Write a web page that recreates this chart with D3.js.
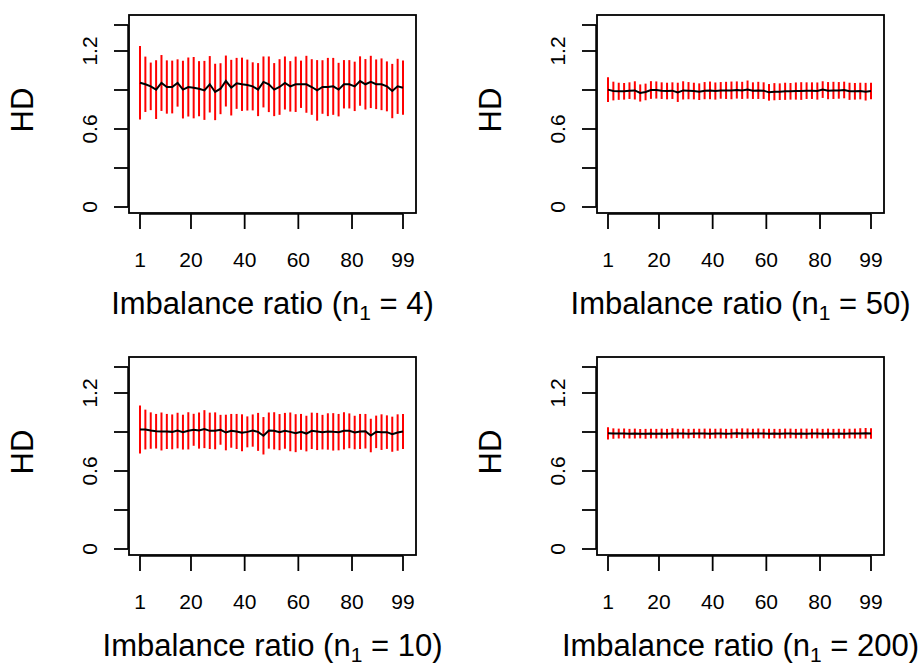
<!DOCTYPE html>
<meta charset="utf-8">
<script src="https://d3js.org/d3.v7.min.js"></script>
<style>
body { margin: 0; background: #fff; }
svg text { font-family: "Liberation Sans", Arial, Helvetica, sans-serif; fill: #000; }
.tick-label { font-size: 21px; }
.axis-title { font-size: 31px; }
</style>
<body>
<div id="chart"></div>
<script>

// imbalance ratios where the runs were made
var ratios = [1,3,5,7,9,11,13,15,17,19,21,23,25,27,29,31,33,35,37,39,41,43,45,47,49,
              51,53,55,57,59,61,63,65,67,69,71,73,75,77,79,81,83,85,87,89,91,93,95,97,99];

// n1 = 4
var meanN4 = [.956,.944,.928,.903,.954,.923,.923,.954,.903,.923,.918,.910,.897,.944,.885,.910,.969,.918,.951,.944,
              .938,.928,.903,.962,.944,.903,.923,.954,.928,.944,.944,.944,.923,.897,.923,.923,.928,.903,.944,.944,
              .928,.969,.944,.962,.944,.944,.928,.892,.928,.918];
var sdN4   = [.283,.213,.183,.226,.215,.205,.203,.182,.222,.227,.236,.212,.227,.217,.217,.196,.196,.214,.196,.205,
              .196,.185,.204,.196,.214,.204,.214,.204,.194,.213,.182,.219,.214,.233,.206,.224,.219,.206,.186,.186,
              .190,.190,.194,.201,.191,.199,.192,.209,.212,.209];

// n1 = 50
var meanN50 = [.903,.892,.890,.890,.895,.897,.877,.885,.900,.900,.895,.892,.895,.882,.897,.895,.892,.887,.895,.897,
               .892,.897,.897,.897,.900,.897,.903,.895,.897,.895,.882,.887,.887,.890,.890,.892,.892,.895,.895,.892,
               .903,.895,.897,.897,.900,.890,.890,.892,.887,.892];
var sdN50   = [.096,.072,.066,.064,.064,.070,.066,.064,.068,.066,.064,.064,.064,.074,.070,.066,.064,.064,.066,.068,
               .066,.064,.066,.068,.066,.066,.070,.064,.066,.064,.064,.066,.064,.066,.064,.066,.068,.064,.064,.066,
               .064,.066,.066,.064,.064,.066,.064,.064,.068,.064];

// n1 = 10
var meanN10 = [.919,.919,.911,.906,.904,.904,.901,.911,.899,.909,.917,.911,.922,.909,.909,.917,.896,.909,.904,.894,
               .901,.911,.901,.871,.911,.909,.899,.909,.901,.891,.901,.888,.909,.904,.899,.904,.901,.899,.909,.909,
               .896,.904,.906,.873,.901,.899,.899,.883,.896,.904];
var sdN10   = [.184,.153,.140,.133,.146,.135,.134,.137,.134,.143,.123,.139,.146,.140,.142,.115,.137,.130,.135,.142,
               .119,.124,.146,.144,.139,.143,.139,.138,.149,.146,.138,.137,.140,.143,.133,.140,.144,.140,.143,.134,
               .129,.135,.133,.129,.125,.137,.129,.135,.140,.135];

// n1 = 200
var meanN200 = [.890,.888,.888,.889,.887,.888,.887,.886,.888,.887,.888,.887,.889,.888,.888,.887,.889,.888,.888,.887,
                .888,.889,.887,.888,.890,.888,.889,.888,.889,.888,.887,.888,.887,.888,.889,.887,.888,.887,.888,.889,
                .887,.888,.887,.888,.887,.888,.888,.889,.890,.889];
var sdN200   = [.047,.040,.038,.038,.037,.038,.036,.038,.037,.037,.038,.037,.040,.037,.038,.037,.036,.037,.038,.039,
                .037,.038,.037,.037,.036,.040,.038,.037,.038,.037,.038,.036,.037,.038,.037,.037,.038,.039,.037,.038,
                .037,.038,.037,.037,.038,.037,.038,.040,.041,.040];

var xTicks = [1, 20, 40, 60, 80, 99];
var yTicks = [0, 0.3, 0.6, 0.9, 1.2, 1.4];
var yTickLabels = ["0", "", "0.6", "", "1.2", ""];

var width = 922, height = 665;
var svg = d3.select("#chart").append("svg")
    .attr("width", width)
    .attr("height", height);

// panel boxes (left, top) ; each plot region 287 x 198
var panels = [
  {n1: "4",   mean: meanN4,   sd: sdN4,   left: 129, top: 15},
  {n1: "50",  mean: meanN50,  sd: sdN50,  left: 597, top: 15},
  {n1: "10",  mean: meanN10,  sd: sdN10,  left: 129, top: 357},
  {n1: "200", mean: meanN200, sd: sdN200, left: 597, top: 357}
];
var boxW = 287, boxH = 198;

panels.forEach(function(p) {
  var g = svg.append("g")
      .attr("transform", "translate(" + p.left + "," + p.top + ")");

  var x = d3.scaleLinear().domain([1, 99]).range([11, 274]);
  var y = d3.scaleLinear().domain([0, 1.2]).range([192, 36]);

  var rows = ratios.map(function(r, i) {
    return {r: r, m: p.mean[i], s: p.sd[i]};
  });

  // error bars
  g.selectAll(".bar").data(rows).enter().append("line")
      .attr("class", "bar")
      .attr("x1", function(d) { return x(d.r); })
      .attr("x2", function(d) { return x(d.r); })
      .attr("y1", function(d) { return y(d.m - d.s); })
      .attr("y2", function(d) { return y(d.m + d.s); })
      .attr("stroke", "#ff0000")
      .attr("stroke-width", 2);

  // mean line
  g.append("path")
      .datum(rows)
      .attr("fill", "none")
      .attr("stroke", "#000")
      .attr("stroke-width", 2)
      .attr("d", d3.line().x(function(d) { return x(d.r); }).y(function(d) { return y(d.m); }));

  // box
  g.append("rect")
      .attr("width", boxW).attr("height", boxH)
      .attr("fill", "none").attr("stroke", "#000").attr("stroke-width", 1.8);

  // x axis
  var xa = g.append("g").attr("transform", "translate(0," + (boxH + 1) + ")");
  xa.append("line")
      .attr("x1", x(1)).attr("x2", x(99))
      .attr("stroke", "#000").attr("stroke-width", 1.5);
  xa.selectAll(".xt").data(xTicks).enter().append("line")
      .attr("x1", function(d) { return x(d); })
      .attr("x2", function(d) { return x(d); })
      .attr("y1", 0).attr("y2", 15)
      .attr("stroke", "#000").attr("stroke-width", 1.8);
  xa.selectAll(".xl").data(xTicks).enter().append("text")
      .attr("class", "tick-label")
      .attr("x", function(d) { return x(d); })
      .attr("y", 53)
      .attr("text-anchor", "middle")
      .text(function(d) { return d; });

  // y axis
  var ya = g.append("g").attr("transform", "translate(-1,0)");
  ya.append("line")
      .attr("y1", y(0)).attr("y2", y(1.4))
      .attr("stroke", "#000").attr("stroke-width", 1.5);
  ya.selectAll(".yt").data(yTicks).enter().append("line")
      .attr("y1", function(d) { return y(d); })
      .attr("y2", function(d) { return y(d); })
      .attr("x1", 0).attr("x2", -14)
      .attr("stroke", "#000").attr("stroke-width", 1.8);
  ya.selectAll(".yl").data(yTicks).enter().append("text")
      .attr("class", "tick-label")
      .attr("transform", function(d) { return "translate(-31," + y(d) + ") rotate(-90)"; })
      .attr("text-anchor", "middle")
      .text(function(d, i) { return yTickLabels[i]; });

  // axis titles
  g.append("text")
      .attr("class", "axis-title")
      .attr("transform", "translate(-96," + (boxH / 2 - 4) + ") rotate(-90)")
      .attr("text-anchor", "middle")
      .text("HD");

  var t = g.append("text")
      .attr("class", "axis-title")
      .attr("x", boxW / 2)
      .attr("y", 299)
      .attr("text-anchor", "middle");
  t.append("tspan").text("Imbalance ratio (n");
  t.append("tspan").attr("dy", 6).style("font-size", "21px").text("1");
  t.append("tspan").attr("dy", -6).text(" = " + p.n1 + ")");
});

</script>
</body>
